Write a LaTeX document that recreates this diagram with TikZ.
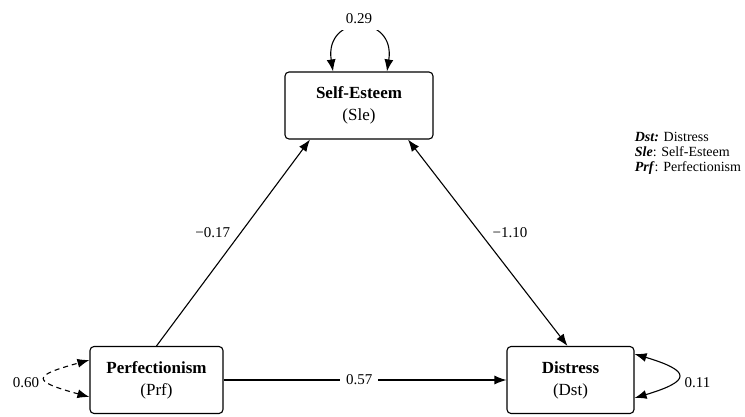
\documentclass[tikz,border=0pt]{standalone}
\usepackage{fontspec}
\setmainfont{Liberation Serif}
\usetikzlibrary{arrows.meta,calc}

\begin{document}
\begin{tikzpicture}[x=1pt,y=-1pt,line width=1.1pt,
    latent/.style={draw,rounded corners=4pt,minimum height=67pt,align=center,
      inner sep=0pt,font=\fontsize{17}{22}\selectfont},
    coef/.style={font=\fontsize{15}{18}\selectfont},
    path/.style={-{Latex[length=12pt,width=9pt]}},
    cov/.style={{Latex[length=12pt,width=9pt]}-{Latex[length=12pt,width=9pt]}}]
        \useasboundingbox (0,0) rectangle (745,416);
        % the three variables
        \node[latent,minimum width=148pt] (sle) at (359,105.5) {\textbf{Self-Esteem}\\(Sle)};
        \node[latent,minimum width=133pt] (prf) at (156.5,380) {\textbf{Perfectionism}\\(Prf)};
        \node[latent,minimum width=127pt] (dst) at (570.5,380) {\textbf{Distress}\\(Dst)};
        % paths between them
        \draw[path] (prf.north) -- ([xshift=-49pt]sle.south)
          node[coef,pos=0.55,left=7pt] {−0.17};
        \draw[cov] ([xshift=49pt]sle.south) -- ([xshift=-3pt]dst.north)
          node[coef,pos=0.45,right=9pt] {−1.10};
        \draw[path] (prf.east) -- (dst.west)
          node[coef,pos=0.48,fill=white,inner sep=6pt] {0.57};
        % variances
        \draw[cov] ([xshift=-26pt]sle.north) .. controls +(-9,-58) and +(9,-58) .. ([xshift=28pt]sle.north);
        \node[coef,fill=white,inner sep=6pt] (vsle) at (359,19) {0.29};
        \draw[cov,dash pattern=on 5pt off 4pt] ([yshift=-17pt]prf.west) .. controls +(-58,-16) and +(-58,16) .. ([yshift=20pt]prf.west);
        \node[coef] (vprf) at (26,383) {0.60};
        \draw[cov] ([yshift=-18pt]dst.east) .. controls +(57,-17) and +(57,17) .. ([yshift=26pt]dst.east);
        \node[coef] (vdst) at (697.5,383) {0.11};
        % legend
        \node[anchor=west,align=left,font=\fontsize{14}{15}\selectfont] (key) at (631,153)
          {\textbf{\textit{Dst:}} Distress\\\textbf{\textit{Sle}}: Self-Esteem\\\textbf{\textit{Prf}}: Perfectionism};
      \end{tikzpicture}
\end{document}
